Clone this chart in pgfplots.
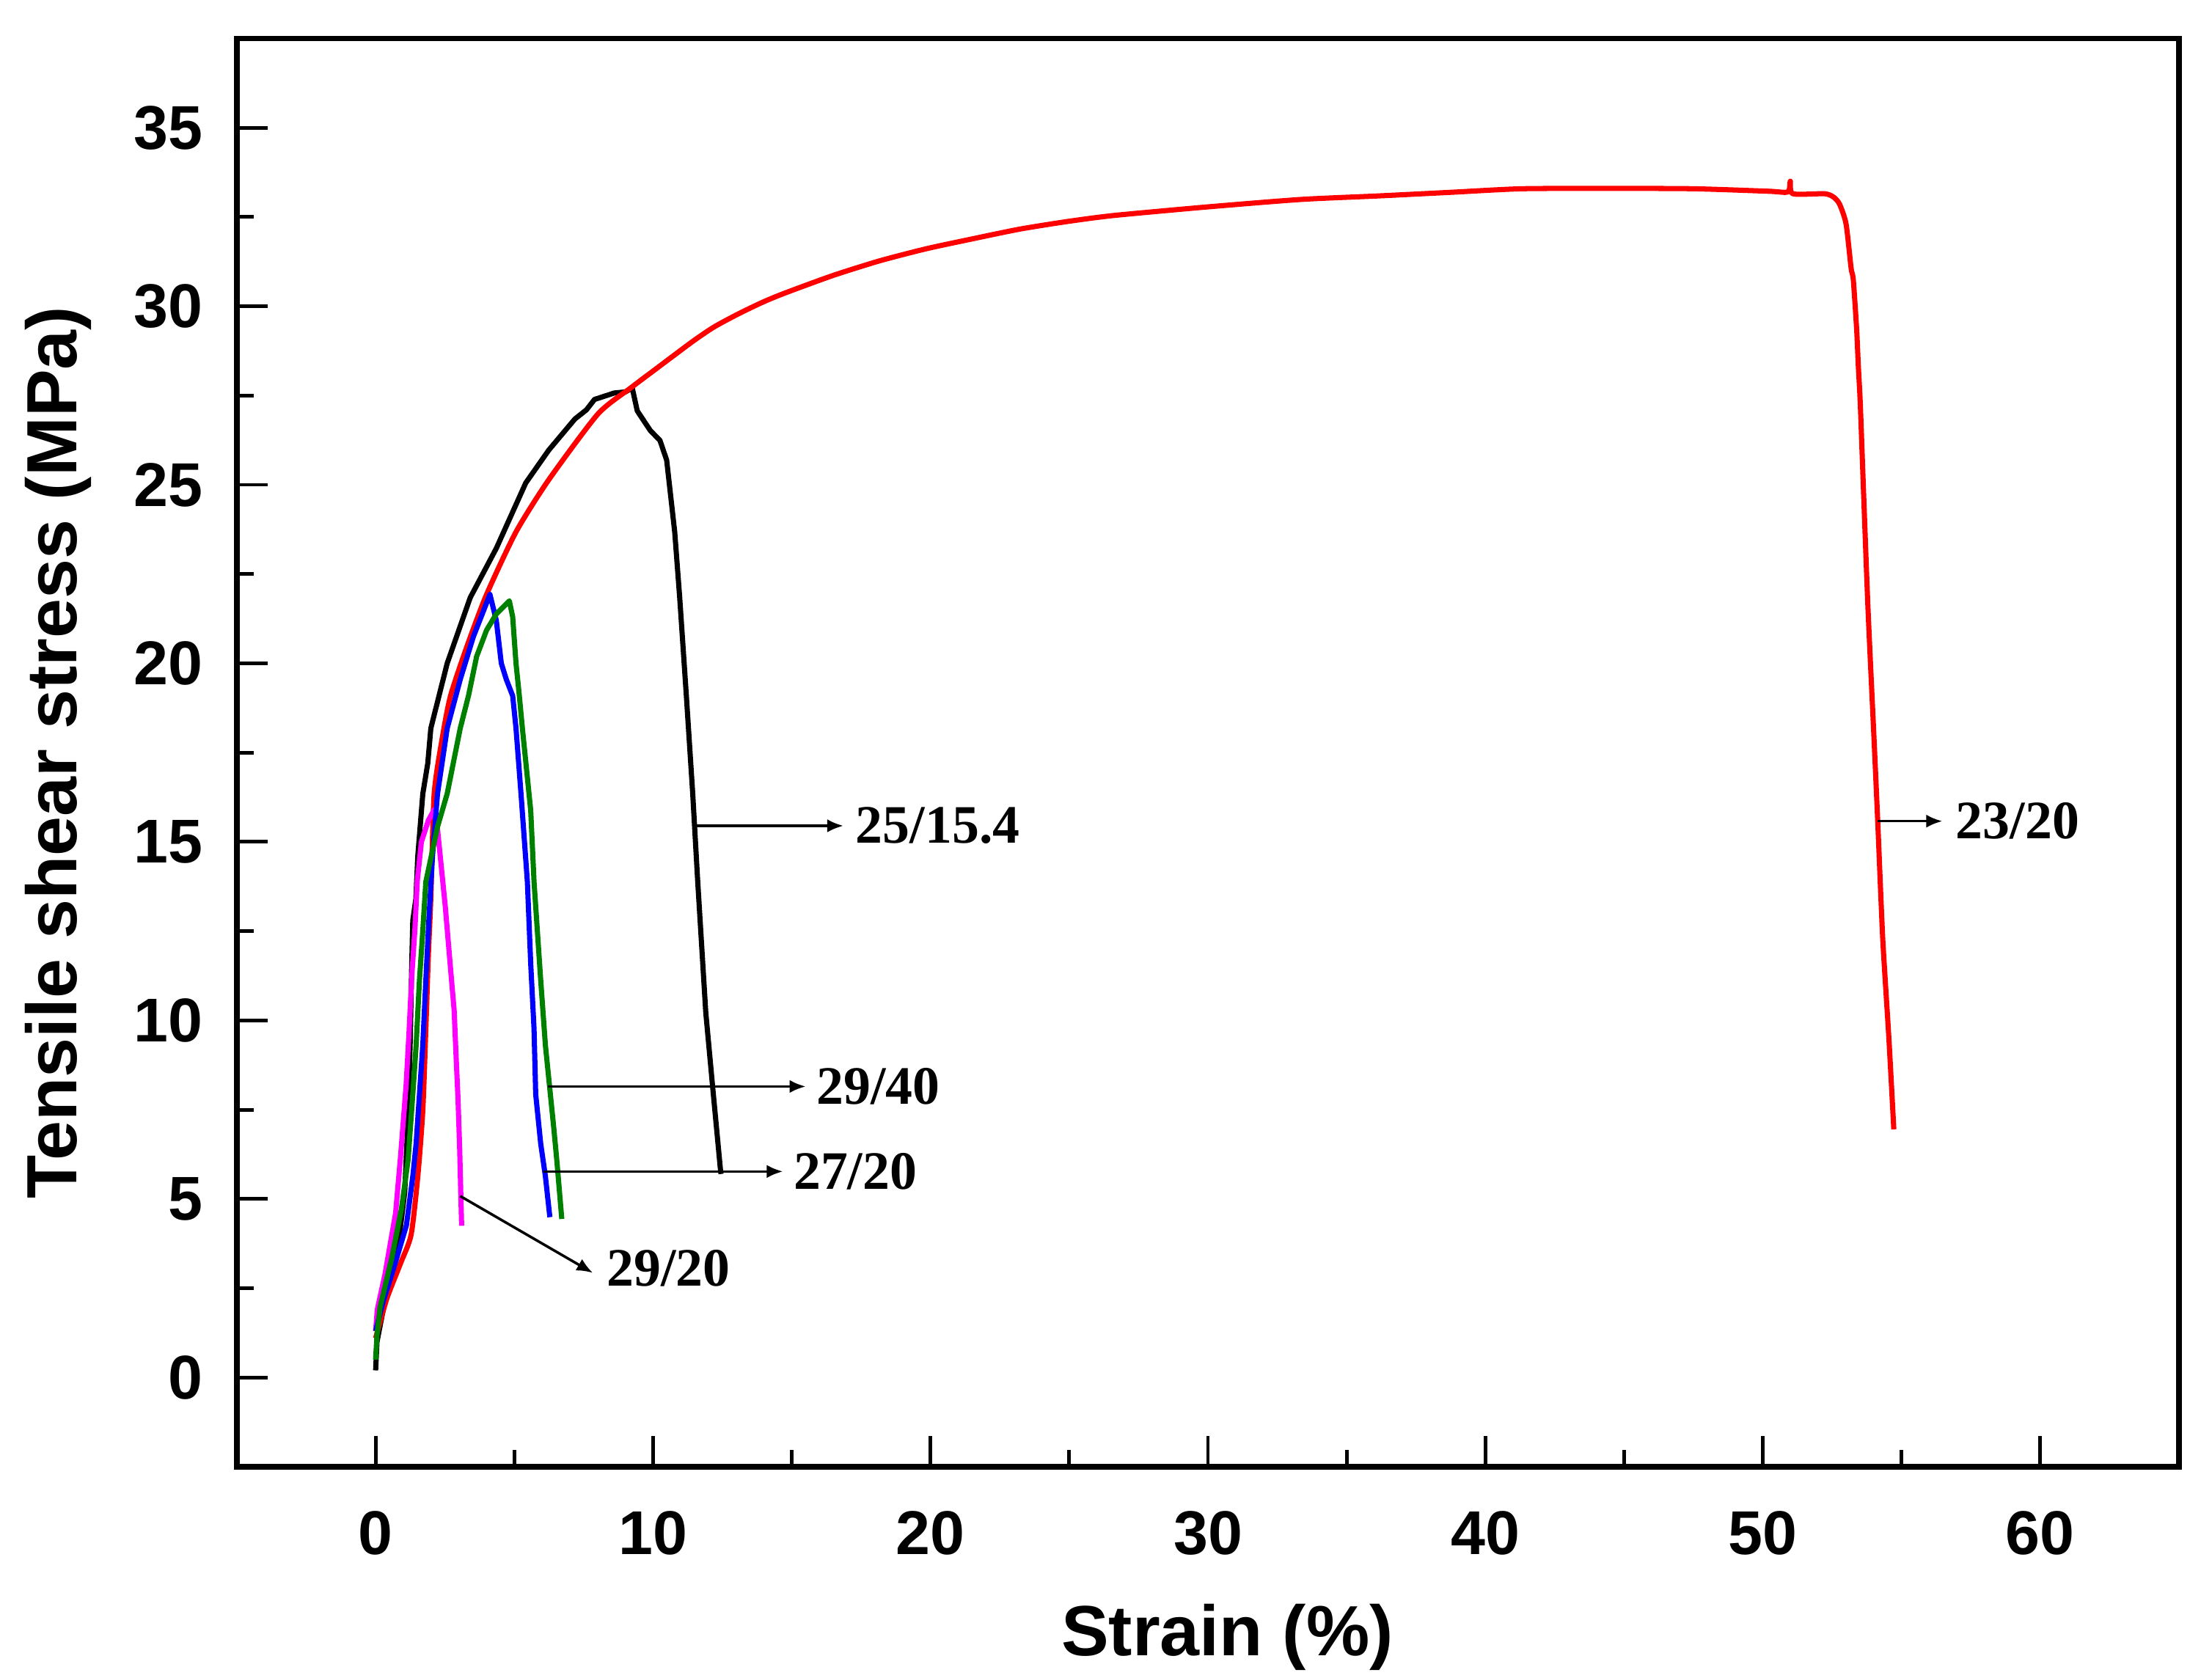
\documentclass[border=0pt]{standalone}
\usepackage{fontspec}
\setmainfont{Liberation Sans}
\newfontfamily\timesf{Liberation Serif}
\usepackage{pgfplots}
\pgfplotsset{compat=1.18}
\usetikzlibrary{arrows.meta}
\definecolor{cmag}{RGB}{255,0,255}
\definecolor{cred}{RGB}{255,0,0}
\definecolor{cblue}{RGB}{0,0,255}
\definecolor{cgreen}{RGB}{0,128,0}
\newcommand{\tickfont}{\fontsize{12}{14}\selectfont\bfseries}
\newcommand{\labfont}{\fontsize{13.8}{16}\selectfont\bfseries}
\newcommand{\annfont}{\fontsize{10.5}{12}\selectfont\timesf\bfseries}
\begin{document}
\begin{tikzpicture}
\useasboundingbox (-1.615cm,-1.44cm) rectangle (13.465cm,10.0cm);
\begin{axis}[
  at={(0,0)}, anchor=south west,
  scale only axis, width=13.24cm, height=9.738cm,
  xmin=-5, xmax=65, ymin=-2.5, ymax=37.5,
  xtick={0,10,...,60}, minor xtick={5,15,...,55},
  ytick={0,5,...,35}, minor ytick={2.5,7.5,...,32.5},
  tick pos=left, tick align=inside,
  major tick length=0.21cm, minor tick length=0.115cm,
  major tick style={line width=0.7pt, black},
  minor tick style={line width=0.7pt, black},
  axis line style={line width=1.1pt, black},
  /pgf/number format/assume math mode=true,
  xticklabel style={font=\tickfont, inner sep=0pt, anchor=north, yshift=-0.295cm},
  yticklabel style={font=\tickfont, inner sep=0pt, anchor=east, xshift=-0.225cm},
  xlabel={Strain (\%)},
  ylabel={Tensile shear stress (MPa)},
  xlabel style={font=\labfont, at={(axis description cs:0.51,-0.1194)}, anchor=center},
  ylabel style={font=\labfont, at={(axis description cs:-0.0921,0.5)}, anchor=center},
  every axis plot/.append style={line width=1pt, line join=round, mark=none},
]
% 25/15.4 (black)
\addplot[black] coordinates {
(0,0.2)(0.05,1.0)(0.4,2.4)(0.8,3.6)(1.05,5.2)(1.18,7.5)(1.25,9.5)(1.3,11.5)(1.34,12.8)(1.45,13.4)(1.52,14.6)(1.70,16.34)(1.88,17.2)(1.99,18.18)(2.58,20.0)(3.41,21.84)(4.35,23.22)(5.41,25.05)(6.24,25.97)(7.18,26.84)(7.6,27.1)(7.89,27.39)(8.6,27.57)(9.0,27.6)(9.25,27.71)(9.43,27.07)(9.9,26.52)(10.25,26.24)(10.49,25.69)(10.78,23.68)(10.96,21.84)(11.2,19.09)(11.43,16.34)(11.61,13.88)(11.9,10.22)(12.14,8.2)(12.43,5.81)(12.45,5.7)
};
% 23/20 (red)
\addplot[cred, smooth, tension=0.4] coordinates {
(0,1.1)(0.4,2.2)(0.9,3.2)(1.28,4.0)(1.52,5.63)(1.70,7.47)(1.81,9.76)(1.9,11.8)(1.99,13.43)(2.11,16.34)(2.4,17.9)(2.70,19.09)(3.29,20.47)(4.0,21.93)(5.06,23.68)(6.24,25.14)(8.01,26.98)(9.19,27.71)(10.13,28.26)(11.42,29.01)(12.2,29.42)(13.11,29.8)(14.0,30.13)(14.79,30.38)(16.48,30.86)(18.16,31.27)(19.85,31.61)(21.53,31.89)(23.22,32.16)(24.91,32.37)(26.59,32.54)(29.96,32.78)(33.34,32.99)(36.17,33.09)(38.75,33.19)(41.31,33.29)(44.5,33.3)(47.51,33.29)(50.21,33.22)(50.9,33.2)(50.99,33.5)(51.08,33.15)(52.23,33.15)(52.56,33.05)(52.77,32.85)(53.0,32.3)(53.18,31.07)(53.26,30.74)(53.38,29.36)(53.44,28.34)(53.51,27.3)(53.61,25.2)(53.79,21.52)(54.01,17.83)(54.14,15.58)(54.32,12.3)(54.54,9.53)(54.72,6.95)
};
% 29/20 (magenta)
\addplot[cmag] coordinates {
(0,1.3)(0.06,1.9)(0.34,2.9)(0.72,4.6)(0.9,6.2)(1.1,8.2)(1.2,9.6)(1.3,11.2)(1.42,12.6)(1.5,13.9)(1.65,15.0)(1.9,15.6)(2.11,15.9)(2.2,15.6)(2.29,14.9)(2.51,13.2)(2.62,12.19)(2.75,11.0)(2.83,10.29)(2.9,9.0)(2.97,7.8)(3.03,6.4)(3.07,5.15)(3.1,4.25)
};
% 29/40 (blue)
\addplot[cblue] coordinates {
(0,1.3)(0.28,2.15)(0.69,3.16)(1.11,4.26)(1.34,5.63)(1.46,6.55)(1.58,7.93)(1.70,9.3)(1.81,11.13)(1.93,12.97)(2.05,14.6)(2.23,16.34)(2.58,18.18)(3.05,19.55)(3.52,20.74)(4.12,21.93)(4.35,21.2)(4.53,20.0)(4.71,19.55)(4.94,19.09)(5.06,18.18)(5.24,16.35)(5.47,13.88)(5.59,11.59)(5.71,9.76)(5.77,7.93)(5.95,6.55)(6.12,5.63)(6.28,4.49)
};
% 27/20 (green)
\addplot[cgreen] coordinates {
(0,0.5)(0.05,1.2)(0.16,1.97)(0.58,3.34)(0.93,4.72)(1.17,6.09)(1.34,7.93)(1.46,9.3)(1.58,11.13)(1.70,12.51)(1.81,13.88)(2.23,15.42)(2.58,16.35)(3.05,18.18)(3.35,19.1)(3.64,20.19)(4.0,20.93)(4.35,21.38)(4.82,21.75)(4.94,21.3)(5.06,20.0)(5.18,19.09)(5.29,18.18)(5.47,16.8)(5.59,15.88)(5.71,13.88)(5.95,11.13)(6.12,9.3)(6.24,8.38)(6.42,7.0)(6.53,6.09)(6.71,4.44)
};
% annotations
\draw[-{Latex[length=1.1mm,width=0.9mm]}, line width=0.5pt] (axis cs:11.55,15.45) -- (axis cs:16.86,15.45);
\node[anchor=west, inner sep=0pt, font=\annfont] at (axis cs:17.27,15.45) {25/15.4};
\draw[-{Latex[length=1.1mm,width=0.9mm]}, line width=0.5pt] (axis cs:6.2,8.15) -- (axis cs:15.5,8.15);
\node[anchor=west, inner sep=0pt, font=\annfont] at (axis cs:15.86,8.15) {29/40};
\draw[-{Latex[length=1.1mm,width=0.9mm]}, line width=0.5pt] (axis cs:6.04,5.77) -- (axis cs:14.68,5.77);
\node[anchor=west, inner sep=0pt, font=\annfont] at (axis cs:15.03,5.77) {27/20};
\draw[-{Latex[length=1.1mm,width=0.9mm]}, line width=0.5pt] (axis cs:3.05,5.08) -- (axis cs:7.83,2.93);
\node[anchor=west, inner sep=0pt, font=\annfont] at (axis cs:8.3,3.06) {29/20};
\draw[-{Latex[length=1.1mm,width=0.9mm]}, line width=0.5pt] (axis cs:54.14,15.58) -- (axis cs:56.47,15.58);
\node[anchor=west, inner sep=0pt, font=\annfont] at (axis cs:56.92,15.58) {23/20};
\end{axis}
\end{tikzpicture}
\end{document}
